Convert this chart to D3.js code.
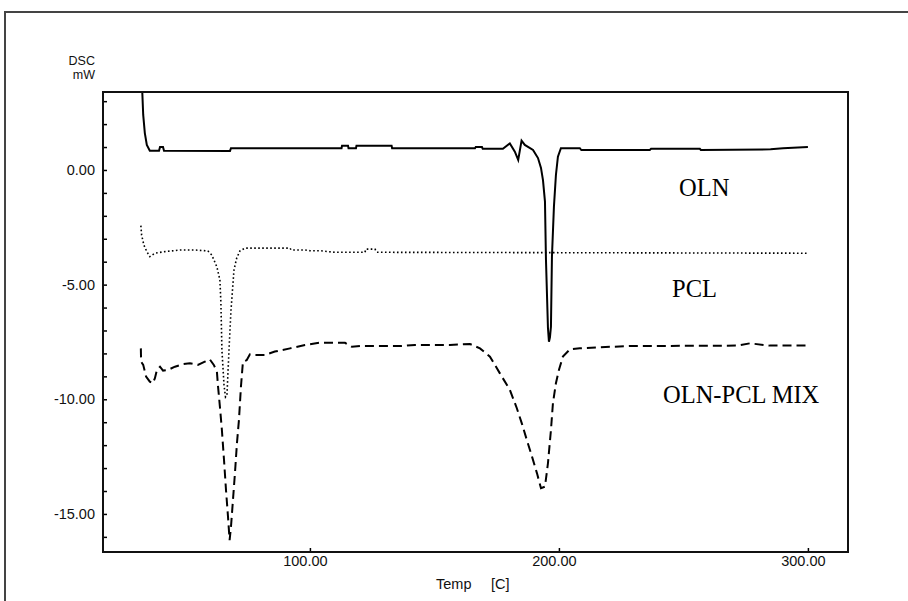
<!DOCTYPE html>
<html>
<head>
<meta charset="utf-8">
<script src="https://cdn.jsdelivr.net/npm/d3@7"></script>
<style>
  html, body { margin: 0; padding: 0; background: #fff; }
  svg { display: block; }
</style>
</head>
<body>
<svg id="chart" width="908" height="601"></svg>
<script>
// ---- data (Temp [C], DSC [mW]) ----
const olnT = [32.6, 33.05, 33.7, 34.5, 35.7, 39.4, 39.8, 41.0, 41.4, 67.9, 68.3, 112.7, 112.9, 115.3, 115.5, 118.5, 118.7, 132.8, 133.0, 166.3, 166.6, 169.1, 169.4, 177.5, 180.3, 182.3, 183.65, 185.0, 186.3, 189.6, 191.6, 192.8, 193.6, 194.4, 194.8, 195.6, 196.0, 196.4, 196.8, 197.2, 198.0, 198.8, 199.6, 200.8, 208.4, 209.0, 236.5, 237.0, 256.6, 257.0, 285.0, 290.0, 300.0];
const olnV = [3.6, 2.40, 1.61, 1.09, 0.84, 0.84, 1.00, 1.00, 0.84, 0.83, 0.95, 0.95, 1.06, 1.06, 0.95, 0.95, 1.06, 1.06, 0.95, 0.95, 1.00, 1.00, 0.92, 0.92, 1.16, 0.80, 0.44, 1.28, 1.09, 0.87, 0.52, 0.09, -0.44, -1.38, -3.92, -6.89, -7.49, -7.30, -6.83, -3.78, -1.60, -0.22, 0.58, 0.95, 0.95, 0.87, 0.87, 0.92, 0.92, 0.87, 0.90, 0.95, 1.00];

const pclT = [32.1, 32.4, 33.3, 34.5, 35.7, 37.75, 41.8, 47.8, 53.8, 59.0, 60.6, 62.65, 63.85, 64.25, 64.65, 65.5, 66.1, 66.7, 67.5, 68.3, 68.9, 69.5, 70.6, 71.9, 73.9, 92.0, 92.5, 98.0, 100.0, 104.0, 110.0, 122.1, 122.5, 126.1, 126.9, 300.0];
const pclV = [-2.43, -2.83, -3.27, -3.56, -3.78, -3.63, -3.56, -3.49, -3.49, -3.53, -3.71, -4.23, -4.80, -5.80, -7.85, -9.38, -9.90, -9.81, -7.85, -6.11, -5.23, -4.36, -3.84, -3.53, -3.41, -3.41, -3.49, -3.49, -3.52, -3.52, -3.59, -3.59, -3.45, -3.45, -3.59, -3.63];

const mixT = [32.1, 32.2, 33.05, 34.2, 35.7, 36.9, 37.75, 38.55, 39.8, 41.0, 43.0, 45.8, 49.0, 51.8, 55.0, 57.8, 59.8, 61.4, 62.65, 63.05, 63.85, 64.65, 65.5, 66.3, 67.1, 67.75, 68.3, 69.1, 69.9, 70.7, 71.5, 72.3, 73.1, 74.6, 75.9, 77.9, 81.9, 85.9, 92.0, 98.0, 104.0, 110.0, 114.1, 116.9, 120.1, 126.1, 136.1, 142.2, 148.2, 156.2, 164.3, 168.3, 172.3, 176.3, 180.3, 183.1, 185.1, 187.1, 189.2, 191.2, 192.8, 194.4, 195.6, 196.8, 197.6, 198.8, 200.0, 201.6, 204.4, 208.4, 216.5, 228.5, 271.5, 276.7, 284.7, 300.0];
const mixV = [-7.78, -8.36, -8.50, -9.01, -9.23, -9.30, -9.08, -8.72, -8.58, -8.75, -8.72, -8.58, -8.47, -8.43, -8.50, -8.36, -8.26, -8.50, -8.80, -9.38, -10.32, -11.34, -12.65, -13.96, -15.12, -16.14, -15.56, -14.39, -13.21, -11.91, -10.90, -9.45, -8.36, -8.30, -8.04, -8.07, -8.07, -7.92, -7.78, -7.63, -7.53, -7.53, -7.54, -7.71, -7.68, -7.68, -7.68, -7.63, -7.63, -7.63, -7.59, -7.78, -8.14, -8.87, -9.59, -10.39, -11.05, -11.77, -12.50, -13.23, -13.88, -13.81, -12.79, -11.34, -10.17, -9.30, -8.72, -8.14, -7.82, -7.78, -7.73, -7.68, -7.66, -7.56, -7.66, -7.66];

const xTicks = [100, 200, 300];
const xTickLabels = ["100.00", "200.00", "300.00"];
const yMajorTicks = [0, -5, -10, -15];
const yTickLabels = ["0.00", "-5.00", "-10.00", "-15.00"];
const yMinorTicks = [3, 2, 1, 0, -1, -2, -3, -4, -5, -6, -7, -8, -9, -10, -11, -12, -13, -14, -15, -16];
const seriesNames = ["OLN", "PCL", "OLN-PCL MIX"];

// ---- layout ----
const svg = d3.select("#chart");
const L = 103, R = 848, T = 92, B = 552;
const x = d3.scaleLinear().domain([16.9, 316.1]).range([L, R]);
const y = d3.scaleLinear().domain([-16.66, 3.4]).range([B, T]);

// outer frame
svg.append("rect").attr("x", 5).attr("y", 12).attr("width", 1000).attr("height", 1000)
  .attr("fill", "none").attr("stroke", "#444").attr("stroke-width", 2);

svg.append("defs").append("clipPath").attr("id", "clip")
  .append("rect").attr("x", L).attr("y", T).attr("width", R - L).attr("height", B - T);

// axes
const axisFont = "'Liberation Sans', Arial, sans-serif";
const gy = svg.append("g").attr("transform", `translate(${L},0)`)
  .call(d3.axisLeft(y).tickValues(yMinorTicks).tickSize(-4).tickFormat(""));
gy.select(".domain").remove();
gy.selectAll("line").attr("stroke", "#000").attr("stroke-width", 1.5);

const gyl = svg.append("g").attr("transform", `translate(${L},0)`)
  .call(d3.axisLeft(y).tickValues(yMajorTicks).tickSize(0).tickPadding(8)
    .tickFormat((d, i) => yTickLabels[i]));
gyl.select(".domain").remove();
gyl.selectAll("text").attr("font-family", axisFont).attr("font-size", 14.5).attr("fill", "#111");

const gx = svg.append("g").attr("transform", `translate(0,${B})`)
  .call(d3.axisBottom(x).tickValues(xTicks).tickSize(-4).tickPadding(6)
    .tickFormat((d, i) => xTickLabels[i]));
gx.select(".domain").remove();
gx.selectAll("line").attr("stroke", "#000").attr("stroke-width", 1.5);
gx.selectAll("text").attr("font-family", axisFont).attr("font-size", 14.5).attr("fill", "#111")
  .attr("y", 14).attr("dy", 0).attr("dx", -5).attr("dominant-baseline", "auto");

// axis titles
svg.append("text").attr("x", 95).attr("y", 65).attr("text-anchor", "end")
  .attr("font-family", axisFont).attr("font-size", 12.5).attr("fill", "#111").text("DSC");
svg.append("text").attr("x", 95).attr("y", 79).attr("text-anchor", "end")
  .attr("font-family", axisFont).attr("font-size", 12.5).attr("fill", "#111").text("mW");
svg.append("text").attr("x", 436).attr("y", 589)
  .attr("font-family", axisFont).attr("font-size", 14.5).attr("fill", "#111").text("Temp");
svg.append("text").attr("x", 491).attr("y", 589)
  .attr("font-family", axisFont).attr("font-size", 14.5).attr("fill", "#111").text("[C]");

// curves
const line = d3.line().x(d => x(d[0])).y(d => y(d[1]));
const plot = svg.append("g").attr("clip-path", "url(#clip)");
const zip = (a, b) => a.map((t, i) => [t, b[i]]);

plot.append("path").datum(zip(mixT, mixV)).attr("d", line)
  .attr("fill", "none").attr("stroke", "#000").attr("stroke-width", 2)
  .attr("stroke-dasharray", "9,5");
plot.append("path").datum(zip(pclT, pclV)).attr("d", line)
  .attr("fill", "none").attr("stroke", "#000").attr("stroke-width", 1.6)
  .attr("stroke-dasharray", "1.6,2.4");
plot.append("path").datum(zip(olnT, olnV)).attr("d", line)
  .attr("fill", "none").attr("stroke", "#000").attr("stroke-width", 2);

// plot frame
svg.append("rect").attr("x", L).attr("y", T).attr("width", R - L).attr("height", B - T)
  .attr("fill", "none").attr("stroke", "#111").attr("stroke-width", 2);

// series labels
const labelFont = "'Liberation Serif', 'Times New Roman', serif";
const labelPos = [[679, 196], [672, 297], [663, 403]];
seriesNames.forEach((n, i) => {
  svg.append("text").attr("x", labelPos[i][0]).attr("y", labelPos[i][1])
    .attr("font-family", labelFont).attr("font-size", 24.5).attr("fill", "#000").text(n);
});
</script>
</body>
</html>
